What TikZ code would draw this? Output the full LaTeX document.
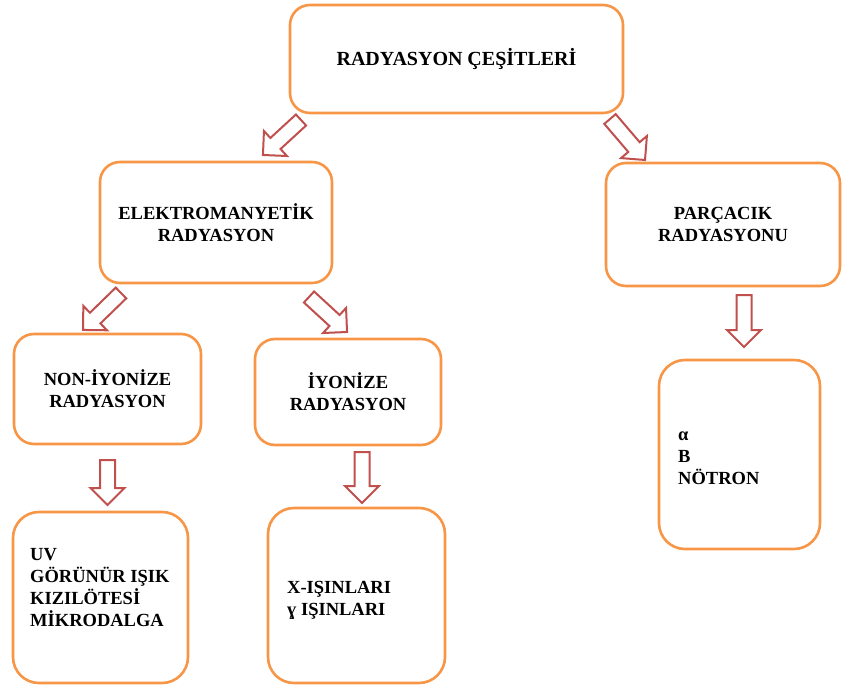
\documentclass[tikz,border=0pt]{standalone}
\usepackage{fontspec}
\setmainfont{Liberation Serif}
\definecolor{boxorange}{HTML}{F79646}
\definecolor{arrowred}{HTML}{C0504D}
\tikzset{
  box/.style={draw=boxorange, line width=2.6pt, rounded corners=20pt, fill=white,
    inner sep=0pt, align=center, font=\bfseries\fontsize{18.5}{22}\selectfont},
  bigbox/.style={box, rounded corners=26pt},
  listtext/.style={inner sep=0pt, align=left, anchor=north west,
    font=\bfseries\fontsize{18.5}{22}\selectfont},
  arrowline/.style={draw=arrowred, line width=2pt, fill=white, line join=miter},
  pics/blockarrow/.style={code={
    \coordinate (-tail) at (0,0);
    \coordinate (-tip) at (#1,0);
    \path[arrowline] (0,-7.5) -- (#1-17,-7.5) -- (#1-17,-17) -- (#1,0)
      -- (#1-17,17) -- (#1-17,7.5) -- (0,7.5) -- cycle;
  }}
}
\begin{document}
\begin{tikzpicture}[x=1pt, y=-1pt]
\useasboundingbox (0,0) rectangle (842,687);
% boxes
\node[box, minimum width=333pt, minimum height=108pt, font=\bfseries\fontsize{20}{24}\selectfont] (top) at (456.5,59) {RADYASYON ÇEŞİTLERİ};
\node[box, minimum width=232pt, minimum height=121pt] (elek) at (216,222.5) {ELEKTROMANYETİK\\RADYASYON};
\node[box, minimum width=234pt, minimum height=123pt] (parc) at (723,224.5) {PARÇACIK\\RADYASYONU};
\node[box, minimum width=187pt, minimum height=110pt] (non) at (107.5,389) {NON-İYONİZE\\RADYASYON};
\node[box, minimum width=186pt, minimum height=106pt] (iyon) at (348,392) {İYONİZE\\RADYASYON};
\node[bigbox, minimum width=175pt, minimum height=171pt] (uv) at (100.5,597.5) {};
\node[bigbox, minimum width=177pt, minimum height=175pt] (xr) at (356.5,595.5) {};
\node[bigbox, minimum width=161pt, minimum height=189pt] (al) at (739.5,454.5) {};
% list texts
\node[listtext] (uvtext) at (30,547.8) {UV\\GÖRÜNÜR IŞIK\\KIZILÖTESİ\\MİKRODALGA};
\node[listtext] (xrtext) at (287,580.8) {X-IŞINLARI\\ɣ IŞINLARI};
\node[listtext] (altext) at (678,431.5) {α\\B\\NÖTRON};
% block arrows (tail position, rotation, length)
\pic[rotate=-137.4] (a1) at (301,120) {blockarrow=51.7};
\pic[rotate=-49.5] (a2) at (610,119) {blockarrow=53.9};
\pic[rotate=-135.8] (a3) at (121,293) {blockarrow=53};
\pic[rotate=-42.6] (a4) at (309,297) {blockarrow=51.7};
\pic[rotate=-90] (a5) at (107.5,460) {blockarrow=45};
\pic[rotate=-90] (a6) at (362,452) {blockarrow=51};
\pic[rotate=-90] (a7) at (744,295) {blockarrow=52};
\end{tikzpicture}
\end{document}
